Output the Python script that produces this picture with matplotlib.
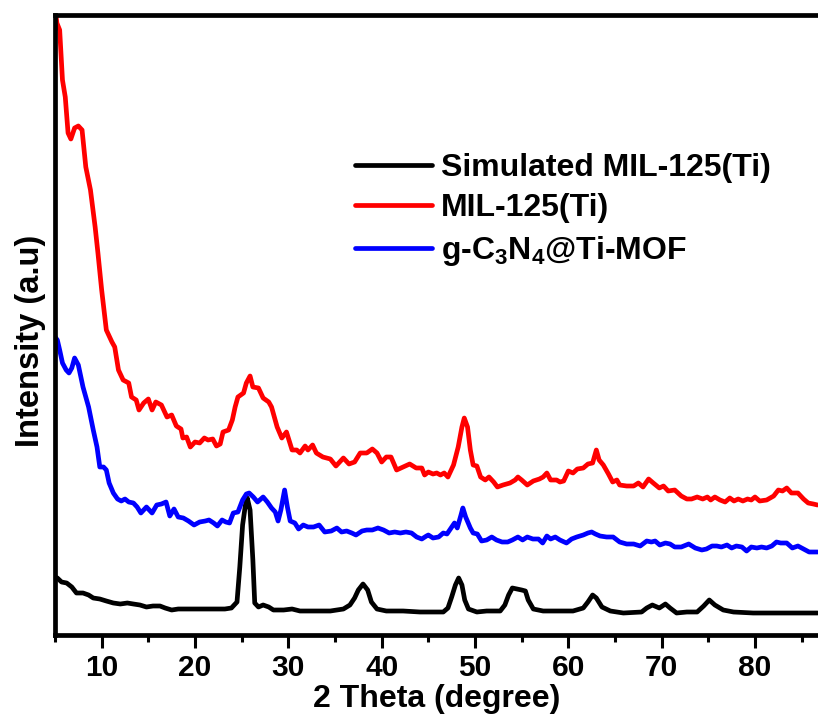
import matplotlib
matplotlib.use("Agg")
import matplotlib.pyplot as plt
from matplotlib.ticker import MultipleLocator

plt.rcParams['font.family'] = ['Liberation Sans', 'DejaVu Sans']
plt.rcParams['font.weight'] = 'bold'
plt.rcParams['mathtext.fontset'] = 'custom'
plt.rcParams['mathtext.rm'] = 'Liberation Sans:bold'
plt.rcParams['mathtext.bf'] = 'Liberation Sans:bold'
plt.rcParams['mathtext.it'] = 'Liberation Sans:bold'

# XRD patterns (2 theta in degree, intensity in arbitrary units)
red_x = [5.0, 5.2, 5.5, 5.8, 6.1, 6.4, 6.7, 7.1, 7.5, 7.9,
         8.3, 8.8, 9.3, 9.6, 10.0, 10.5, 11.1, 11.4, 11.8, 12.3,
         12.9, 13.2, 13.7, 14.0, 14.5, 15.0, 15.4, 15.8, 16.4, 17.0,
         17.5, 18.0, 18.5, 18.7, 19.1, 19.5, 20.0, 20.5, 21.0, 21.4,
         21.9, 22.3, 22.7, 23.0, 23.6, 24.0, 24.3, 24.6, 25.2, 25.5,
         25.9, 26.2, 26.8, 27.3, 27.9, 28.2, 28.8, 29.3, 29.8, 30.4,
         30.9, 31.25, 31.8, 32.1, 32.6, 33.0, 33.7, 34.5, 35.1, 35.9,
         36.5, 37.1, 37.7, 38.4, 39.0, 39.5, 40.0, 40.5, 41.0, 41.6,
         42.3, 43.0, 43.7, 44.3, 44.6, 45.0, 45.5, 45.9, 46.3, 46.7,
         47.1, 47.7, 48.2, 48.6, 48.85, 49.2, 49.5, 49.8, 50.2, 50.6,
         51.1, 51.5, 52.0, 52.4, 53.0, 53.75, 54.3, 54.6, 55.0, 55.6,
         56.25, 56.9, 57.3, 57.7, 58.1, 58.75, 59.1, 59.5, 60.0, 60.5,
         60.96, 61.6, 62.1, 62.6, 63.0, 63.3, 63.75, 64.3, 64.75, 65.2,
         65.5, 66.25, 67.0, 67.5, 68.0, 68.6, 69.1, 69.75, 70.2, 70.7,
         71.4, 72.1, 72.7, 73.2, 73.8, 74.4, 74.9, 75.25, 75.7, 76.25,
         76.8, 77.3, 77.75, 78.2, 78.7, 79.2, 79.6, 80.0, 80.5, 81.25,
         82.0, 82.5, 82.95, 83.4, 83.9, 84.6, 85.2, 85.7, 86.25, 86.7]
red_y = [628, 612, 605, 555, 538, 502, 496, 507, 509, 505,
         468, 445, 408, 382, 345, 305, 293, 288, 265, 255,
         252, 238, 235, 225, 232, 236, 225, 233, 230, 218,
         220, 209, 206, 197, 198, 188, 193, 192, 197, 195,
         196, 189, 191, 203, 205, 215, 228, 238, 242, 252,
         259, 248, 247, 237, 233, 228, 208, 197, 203, 185,
         185, 182, 189, 185, 190, 182, 178, 176, 169, 177,
         171, 173, 182, 182, 186, 182, 173, 178, 178, 165,
         168, 171, 167, 167, 160, 163, 161, 162, 160, 162,
         158, 170, 188, 208, 217, 208, 185, 170, 169, 158,
         155, 158, 153, 148, 150, 152, 155, 158, 155, 150,
         154, 156, 158, 162, 155, 155, 153, 154, 164, 162,
         166, 167, 171, 172, 185, 175, 170, 161, 153, 155,
         150, 149, 149, 152, 148, 156, 152, 147, 149, 144,
         145, 139, 136, 136, 138, 136, 138, 135, 138, 135,
         133, 137, 134, 136, 134, 136, 135, 138, 134, 135,
         139, 145, 144, 147, 142, 142, 136, 132, 131, 130]

blue_x = [5.0, 5.25, 5.5, 5.8, 6.2, 6.5, 6.8, 7.1, 7.5, 8.0,
          8.6, 9.1, 9.5, 9.8, 10.2, 10.5, 10.8, 11.25, 11.7, 12.1,
          12.5, 12.9, 13.4, 13.8, 14.2, 14.8, 15.4, 15.9, 16.4, 16.9,
          17.3, 17.75, 18.2, 18.75, 19.3, 19.9, 20.5, 21.1, 21.5, 22.0,
          22.4, 22.9, 23.3, 23.7, 24.1, 24.6, 25.1, 25.5, 25.8, 26.25,
          26.7, 27.3, 27.75, 28.2, 28.6, 28.9, 29.2, 29.6, 29.9, 30.2,
          30.7, 31.1, 31.6, 32.1, 32.7, 33.3, 33.9, 34.6, 35.2, 35.7,
          36.25, 36.8, 37.25, 37.9, 38.4, 39.0, 39.6, 40.2, 40.8, 41.4,
          42.0, 42.6, 43.2, 43.75, 44.3, 44.8, 45.0, 45.5, 46.1, 46.6,
          47.0, 47.5, 47.8, 48.1, 48.5, 48.7, 49.0, 49.5, 49.8, 50.25,
          50.7, 51.25, 51.8, 52.3, 52.9, 53.5, 54.0, 54.6, 55.1, 55.6,
          56.2, 56.8, 57.25, 57.7, 58.1, 58.6, 59.1, 59.8, 60.35, 60.9,
          61.6, 62.1, 62.5, 62.9, 63.4, 64.1, 64.8, 65.5, 66.25, 67.0,
          67.7, 68.4, 68.9, 69.3, 69.8, 70.4, 70.9, 71.4, 72.1, 72.9,
          73.6, 74.3, 74.8, 75.4, 75.9, 76.4, 77.0, 77.5, 78.0, 78.6,
          79.1, 79.6, 80.2, 80.7, 81.25, 81.8, 82.3, 82.75, 83.4, 84.0,
          84.6, 85.2, 85.8, 86.7]
blue_y = [298, 295, 285, 272, 265, 262, 267, 277, 270, 248,
          228, 205, 188, 168, 168, 165, 152, 142, 136, 134,
          136, 133, 132, 128, 122, 128, 122, 130, 131, 133,
          119, 126, 118, 117, 114, 110, 113, 114, 115, 112,
          109, 115, 113, 112, 122, 123, 135, 141, 142, 138,
          133, 138, 133, 127, 123, 114, 125, 145, 128, 114,
          112, 106, 110, 108, 108, 110, 103, 104, 107, 103,
          104, 102, 100, 104, 105, 105, 107, 105, 102, 103,
          102, 103, 102, 98, 96, 99, 100, 97, 98, 102,
          101, 108, 112, 107, 120, 127, 118, 107, 102, 101,
          94, 95, 98, 95, 93, 93, 95, 98, 95, 98,
          96, 96, 92, 99, 96, 98, 95, 92, 96, 98,
          100, 102, 103, 101, 99, 98, 98, 93, 91, 91,
          89, 94, 93, 94, 90, 92, 91, 88, 88, 91,
          87, 85, 86, 89, 89, 88, 90, 87, 89, 88,
          84, 88, 87, 88, 87, 89, 93, 92, 92, 87,
          89, 86, 83, 83]

black_x = [5.0, 5.25, 5.7, 6.25, 6.8, 7.3, 8.0, 8.6, 9.1, 9.8,
           10.5, 11.25, 12.0, 12.75, 13.4, 14.1, 14.8, 15.5, 16.25, 16.8,
           17.5, 18.2, 19.1, 20.2, 21.25, 22.3, 23.2, 23.9, 24.5, 24.8,
           25.1, 25.4, 25.6, 25.9, 26.2, 26.4, 26.8, 27.3, 27.9, 28.4,
           29.5, 30.4, 31.25, 32.7, 34.5, 35.9, 36.6, 37.1, 37.5, 38.0,
           38.5, 38.9, 39.5, 40.5, 42.3, 44.1, 46.6, 47.1, 47.5, 47.9,
           48.25, 48.6, 48.9, 49.3, 50.2, 51.25, 52.7, 53.2, 53.6, 54.0,
           54.5, 55.0, 55.4, 55.7, 56.25, 57.3, 59.1, 60.5, 61.6, 62.1,
           62.6, 63.0, 63.6, 64.5, 65.9, 67.85, 68.4, 69.0, 69.75, 70.4,
           70.9, 71.6, 72.7, 73.8, 74.5, 75.1, 75.7, 76.6, 77.7, 79.8,
           86.7]
black_y = [58, 57, 53, 52, 48, 42, 42, 40, 37, 36,
           34, 32, 31, 32, 31, 30, 28, 29, 29, 27,
           25, 26, 26, 26, 26, 26, 26, 27, 33, 68,
           110, 130, 137, 125, 75, 32, 28, 30, 28, 25,
           25, 26, 24, 24, 24, 26, 30, 37, 45, 51,
           45, 33, 26, 24, 24, 23, 23, 27, 38, 50,
           57, 50, 35, 26, 23, 24, 24, 30, 40, 47,
           46, 45, 44, 35, 26, 24, 24, 24, 27, 33,
           40, 37, 28, 24, 22, 23, 27, 30, 27, 31,
           27, 22, 23, 23, 29, 35, 30, 25, 23, 22,
           22]

labels = ['Simulated MIL-125(Ti)', 'MIL-125(Ti)', r'g-C$_3$N$_4$@Ti-MOF']

fig = plt.figure(figsize=(8.18, 7.2), dpi=100)
ax = fig.add_axes([55 / 818, 85 / 720, 763 / 818, 620 / 720])

line_kw = dict(lw=3.4, solid_joinstyle='round', solid_capstyle='round')
ax.plot(black_x, black_y, color='black', label=labels[0], **line_kw)
ax.plot(red_x, red_y, color='#ff0000', label=labels[1], **line_kw)
ax.plot(blue_x, blue_y, color='#0000ff', label=labels[2], **line_kw)

ax.set_xlim(5, 86.75)
ax.set_ylim(0, 620)
ax.set_yticks([])
ax.xaxis.set_major_locator(MultipleLocator(10))
ax.xaxis.set_minor_locator(MultipleLocator(5))
ax.tick_params(axis='x', which='major', direction='out', length=9, width=2.2,
               labelsize=21.5, pad=5)
ax.tick_params(axis='x', which='minor', direction='out', length=5, width=2.2)
for s in ['left', 'bottom', 'top']:
    ax.spines[s].set_linewidth(3.4)
ax.spines['right'].set_visible(False)

ax.set_xlabel('2 Theta (degree)', fontsize=23, fontweight='bold', labelpad=1)
ax.set_ylabel('Intensity (a.u)', fontsize=23.5, fontweight='bold')
ax.yaxis.set_label_coords(-0.012, 0.475)

ax.legend(loc='upper left', bbox_to_anchor=(0.393, 0.777), frameon=False,
          fontsize=23, handlelength=2.4, handletextpad=0.3, labelspacing=0.32,
          borderpad=0, borderaxespad=0)

fig.savefig('out.png', dpi=100)
